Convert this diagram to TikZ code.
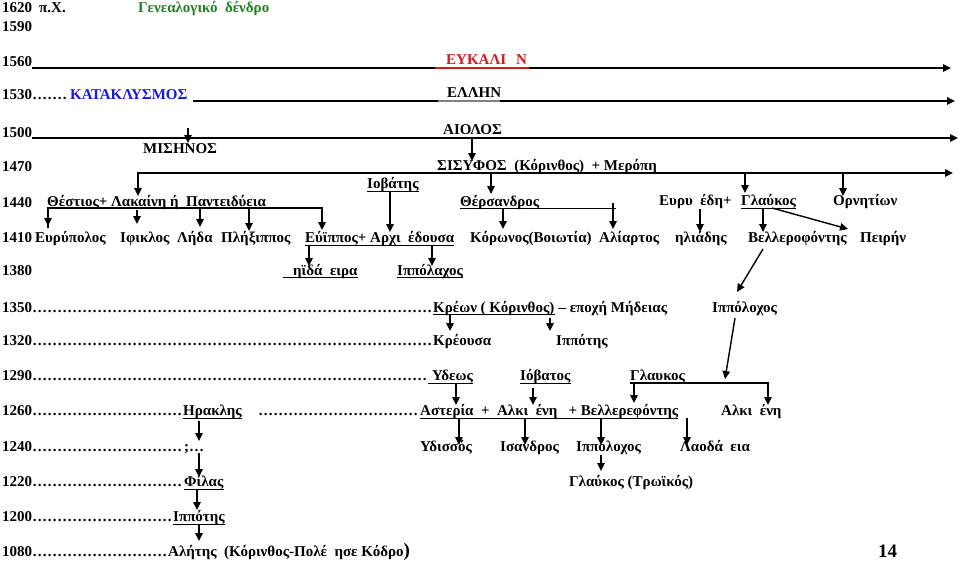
\documentclass[tikz,border=0pt]{standalone}
\usepackage{fontspec}
\setmainfont{Liberation Serif}
\usetikzlibrary{arrows.meta}
\definecolor{tgreen}{RGB}{34,128,34}
\definecolor{tred}{RGB}{205,30,30}
\definecolor{tblue}{RGB}{25,25,215}
\newcommand{\dotsrow}[1]{\hbox to #1{\leaders\hbox to 5pt{\hss.\hss}\hfill}}
\tikzset{
  t/.style={inner sep=0pt, anchor=base west, font=\fontsize{15}{18}\selectfont\bfseries},
  ln/.style={line width=1.5pt},
  ar/.style={line width=1.4pt, -{Triangle[length=8pt,width=7.5pt]}},
  arr/.style={line width=1.4pt, {Triangle[length=8pt,width=7.5pt]}-{Triangle[length=8pt,width=7.5pt]}},
  ul/.style={line width=1pt},
}
\begin{document}
\begin{tikzpicture}[x=1pt,y=-1pt]
\useasboundingbox (0,0) rectangle (960,567);
\fill[white] (0,0) rectangle (960,567);

% ---------- main horizontal arrows ----------
\draw[ar] (32,68) -- (951,68);
\draw[ar] (193,101) -- (955,101);
\draw[ar] (32,138) -- (958,138);
\draw[arr] (138,196) -- (138,173) -- (953,173);
\draw[tred, line width=1.3pt] (435,68) -- (529,68);
\draw[gray, line width=1.3pt] (438,101) -- (500,101);

% ---------- text ----------
\node[t] (y1620) at (2,13) {1620};
\node[t] (pX) at (39,13) {π.Χ.};
\node[t,text=tgreen] (title) at (138,13) {Γενεαλογικό\ \ δένδρο};
\node[t] (y1590) at (2,32) {1590};
\node[t] (y1560) at (2,67) {1560};
\node[t,text=tred] (eukalin) at (446,65) {ΕΥΚΑΛΙ\hspace{10pt}Ν};
\node[t] (y1530) at (2,100) {1530};
\node[t] (d1530) at (32,100) {\dotsrow{38pt}};
\node[t,text=tblue] (katakl) at (70,100) {ΚΑΤΑΚΛΥΣΜΟΣ};
\node[t] (ellhn) at (447,98) {ΕΛΛΗΝ};
\node[t] (y1500) at (2,137) {1500};
\node[t] (aiolos) at (443,135) {ΑΙΟΛΟΣ};
\node[t] (mishnos) at (143,153) {ΜΙΣΗΝΟΣ};
\node[t] (y1470) at (2,171) {1470};
\node[t] (sisyfos) at (437,170) {ΣΙΣΥΦΟΣ\ \ (Κόρινθος)\ \ + Μερόπη};
\node[t] (iobaths) at (367,188) {Ιοβάτης};
\node[t] (y1440) at (2,207) {1440};
\node[t] (thestios) at (47,206) {Θέστιος+ Λακαίνη ή\ \ Παντειδύεια};
\node[t] (thersandros) at (460,206) {Θέρσανδρος};
\node[t] (eurymedi) at (659,205) {Ευρυ\ \ έδη+};
\node[t] (glaukosA) at (741,205) {Γλαύκος};
\node[t] (ornit) at (833,205) {Ορνητίων};
\node[t] (y1410) at (2,242) {1410};
\node[t] (eurypylos) at (35,242) {Ευρύπολος};
\node[t] (ifiklos) at (120,242) {Ιφικλος};
\node[t] (lhda) at (177,242) {Λήδα};
\node[t] (plhxippos) at (221,242) {Πλήξιππος};
\node[t] (euippos) at (305,242) {Εύϊππος+ Αρχι\ \ έδουσα};
\node[t] (korwnos) at (470,242) {Κόρωνος(Βοιωτία)};
\node[t] (aliartos) at (599,242) {Αλίαρτος};
\node[t] (hliadhs) at (675,242) {ηλιάδης};
\node[t] (bellero) at (748,242) {Βελλεροφόντης};
\node[t] (peirhn) at (860,242) {Πειρήν};
\node[t] (y1380) at (2,275) {1380};
\node[t] (hidameira) at (293,275) {ηϊδά\ \ ειρα};
\node[t] (ippolaxos) at (397,275) {Ιππόλαχος};
\node[t] (y1350) at (2,312) {1350};
\node[t] (d1350) at (32,312) {\dotsrow{401pt}};
\node[t] (kreon) at (433,312) {Κρέων ( Κόρινθος)};
\node[t] (epoxh) at (kreon.base east) {\ – εποχή Μήδειας};
\node[t] (ippolochosA) at (712,312) {Ιππόλοχος};
\node[t] (y1320) at (2,345) {1320};
\node[t] (d1320) at (32,345) {\dotsrow{401pt}};
\node[t] (kreousa) at (433,345) {Κρέουσα};
\node[t] (ippothsA) at (556,345) {Ιππότης};
\node[t] (y1290) at (2,380) {1290};
\node[t] (d1290) at (32,380) {\dotsrow{395pt}};
\node[t] (ydews) at (432,380) {Υδεως};
\node[t] (iobatos) at (520,380) {Ιόβατος};
\node[t] (glaukosB) at (630,380) {Γλαυκος};
\node[t] (y1260) at (2,415) {1260};
\node[t] (d1260a) at (32,415) {\dotsrow{151pt}};
\node[t] (hraklhs) at (183,415) {Ηρακλης};
\node[t] (d1260b) at (258,415) {\dotsrow{162pt}};
\node[t] (asteria) at (420,415) {Αστερία\ \ +\ \ Αλκι\ \ ένη\ \ \ + Βελλερεφόντης};
\node[t] (alkmenhB) at (721,415) {Αλκι\ \ ένη};
\node[t] (y1240) at (2,451) {1240};
\node[t] (d1240) at (32,451) {\dotsrow{152pt}};
\node[t] (qm) at (184,451) {;…};
\node[t] (ydissos) at (420,451) {Υδισσός};
\node[t] (isandros) at (500,451) {Ισανδρος};
\node[t] (ippolochosB) at (576,451) {Ιππόλοχος};
\node[t] (laodameia) at (680,451) {Λαοδά\ \ εια};
\node[t] (y1220) at (2,486) {1220};
\node[t] (d1220) at (32,486) {\dotsrow{152pt}};
\node[t] (filas) at (184,486) {Φίλας};
\node[t] (glaukosT) at (569,486) {Γλαύκος (Τρωϊκός)};
\node[t] (y1200) at (2,521) {1200};
\node[t] (d1200) at (32,521) {\dotsrow{141pt}};
\node[t] (ippothsB) at (173,521) {Ιππότης};
\node[t] (y1080) at (2,556) {1080};
\node[t] (d1080) at (32,556) {\dotsrow{136pt}};
\node[t] (alhths) at (168,556) {Αλήτης\ \ (Κόρινθος-Πολέ\ \ ησε Κόδρο{\fontsize{19}{20}\selectfont)}};
\node[t,font=\fontsize{19}{22}\selectfont\bfseries] (p14) at (878,557) {14};

% ---------- underlines ----------
\draw[ul] (367,191) -- (iobaths.base east |- 0,191);
\draw[ul] (437,173) -- (sisyfos.base east |- 0,173);
\draw[ln] (48,228) -- (48,208) -- (322,208);
\draw[ul] (glaukosA.base west |- 0,208) -- (glaukosA.base east |- 0,208);
\draw[ul] (305,245) -- (euippos.base east |- 0,245);
\draw[ul] (283,277) -- (hidameira.base east |- 0,277);
\draw[ul] (397,277) -- (ippolaxos.base east |- 0,277);
\draw[ul] (433,314) -- (kreon.base east |- 0,314);
\draw[ul] (428,383) -- (ydews.base east |- 0,383);
\draw[ul] (520,383) -- (iobatos.base east |- 0,383);
\draw[ul] (183,418) -- (hraklhs.base east |- 0,418);
\draw[ul] (420,418) -- (asteria.base east |- 0,418);
\draw[ul] (184,489) -- (filas.base east |- 0,489);
\draw[ul] (173,524) -- (ippothsB.base east |- 0,524);

% ---------- connectors ----------
\draw[ar] (188,128) -- (188,143);
\draw[ar] (472,138) -- (472,161);
\draw[ar] (491,173) -- (491,194);
\draw[ar] (745,173) -- (745,193);
\draw[ar] (843,173) -- (843,196);
\draw[ar] (390,191) -- (390,232);
% 1440 left family
\draw[arr] (48,226) -- (48,208) -- (322,208) -- (322,230);
\draw[ar] (137,210) -- (137,224);
\draw[ar] (200,208) -- (200,227);
\draw[ar] (249,208) -- (249,231);
% Thersandros
\draw[ul] (460,208) -- (616,208);
\draw[ar] (503,208) -- (503,229);
\draw[ar] (613,203) -- (613,229);
% Eurymede + Glaukos
\draw[ar] (700,209) -- (700,232);
\draw[ar] (763,208) -- (763,232);
\draw[ar] (772,208) -- (848,229);
% Euippos
\draw[ar] (309,245) -- (309,266);
\draw[ar] (432,245) -- (432,266);
% Bellerophontes -> Ippolochos
\draw[ar] (763,249) -- (737,292);
% Kreon
\draw[ar] (450,314) -- (450,331);
\draw[ar] (550,318) -- (550,331);
% Ippolochos -> Glaukos line
\draw[ar] (735,318) -- (725,379);
% Glaukos line
\draw[ar] (630,383) -- (768,383) -- (768,405);
\draw[ar] (456,383) -- (456,405);
\draw[ar] (533,388) -- (533,405);
\draw[ar] (634,383) -- (634,403);
% Asteria line
\draw[ar] (459,418) -- (459,445);
\draw[ar] (525,418) -- (525,445);
\draw[ar] (601,418) -- (601,445);
\draw[ar] (687,418) -- (687,445);
\draw[ar] (601,455) -- (601,471);
% Herakles line
\draw[ar] (199,421) -- (199,441);
\draw[ar] (199,453) -- (199,477);
\draw[ar] (197,490) -- (197,510);
\draw[ar] (199,525) -- (199,541);
\end{tikzpicture}
\end{document}
